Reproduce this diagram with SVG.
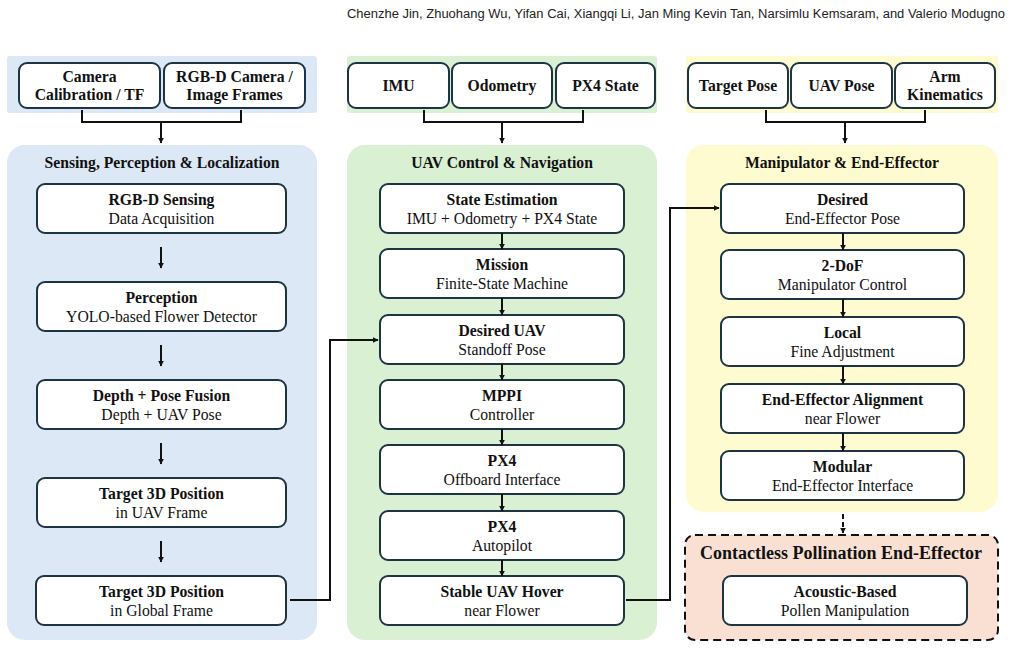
<svg xmlns="http://www.w3.org/2000/svg" width="1013" height="649" viewBox="0 0 1013 649">
<defs>
<marker id="ah" viewBox="0 0 10 10" refX="9" refY="5" markerWidth="6" markerHeight="6" markerUnits="userSpaceOnUse" orient="auto"><path d="M0,0 L10,5 L0,10 z" fill="#111"/></marker>
<style>
.band{stroke:none}
.node{fill:#fff;stroke:#1d3443;stroke-width:2}
.b{font-family:'Liberation Serif','Times New Roman','DejaVu Serif',serif;font-weight:bold;font-size:15.7px;fill:#111;text-anchor:middle}
.r{font-family:'Liberation Serif','Times New Roman','DejaVu Serif',serif;font-size:15.7px;fill:#111;text-anchor:middle}
.t{font-family:'Liberation Serif','Times New Roman','DejaVu Serif',serif;font-weight:bold;font-size:15.7px;fill:#111;text-anchor:middle}
.c{fill:none;stroke:#111;stroke-width:2}
.ca{fill:none;stroke:#111;stroke-width:2;marker-end:url(#ah)}
</style>
</defs>
<rect width="1013" height="649" fill="#fff"/>
<text x="1005" y="18" font-family="Liberation Sans, Arial, sans-serif" font-size="12" fill="#222" text-anchor="end" textLength="658" lengthAdjust="spacingAndGlyphs">Chenzhe Jin, Zhuohang Wu, Yifan Cai, Xiangqi Li, Jan Ming Kevin Tan, Narsimlu Kemsaram, and Valerio Modugno</text>

<!-- backgrounds -->
<g id="bands">
<rect class="band" x="7" y="56" width="310" height="57" rx="3" fill="#dce8f5"/>
<rect class="band" x="347" y="56" width="310" height="57" rx="3" fill="#d9f0d3"/>
<rect class="band" x="686" y="56" width="312" height="57" rx="3" fill="#fdfbcf"/>
<rect class="band" x="7" y="145" width="310" height="495" rx="18" fill="#dce8f5"/>
<rect class="band" x="347" y="145" width="310" height="495" rx="18" fill="#d9f0d3"/>
<rect class="band" x="686" y="145" width="312" height="367" rx="18" fill="#fdfbcf"/>
<rect x="685" y="535" width="313" height="105" rx="10" fill="#f9e0d3" stroke="#111" stroke-width="2" stroke-dasharray="8,5"/>
</g>
<g id="titles" font-family="Liberation Serif, serif">
<text class="t" x="162" y="168">Sensing, Perception &amp; Localization</text>
<text class="t" x="502" y="168">UAV Control &amp; Navigation</text>
<text class="t" x="842" y="168">Manipulator &amp; End-Effector</text>
<text class="t" x="841" y="559" style="font-size:18px">Contactless Pollination End-Effector</text>
</g>

<g font-family="Liberation Serif, serif">
<!-- inputs -->
<g id="in-camcal"><rect class="node" x="19" y="63" width="141" height="45" rx="8"/><text class="b" x="89.5" y="82">Camera</text><text class="b" x="89.5" y="100">Calibration / TF</text></g>
<g id="in-rgbd"><rect class="node" x="164" y="63" width="141" height="45" rx="8"/><text class="b" x="234.5" y="82">RGB-D Camera /</text><text class="b" x="234.5" y="100">Image Frames</text></g>
<g id="in-imu"><rect class="node" x="348" y="63" width="101" height="45" rx="8"/><text class="b" x="398.5" y="91">IMU</text></g>
<g id="in-odom"><rect class="node" x="452" y="63" width="100" height="45" rx="8"/><text class="b" x="502" y="91">Odometry</text></g>
<g id="in-px4"><rect class="node" x="556" y="63" width="99" height="45" rx="8"/><text class="b" x="605.5" y="91">PX4 State</text></g>
<g id="in-target"><rect class="node" x="688" y="63" width="100" height="45" rx="8"/><text class="b" x="738" y="91">Target Pose</text></g>
<g id="in-uavpose"><rect class="node" x="791" y="63" width="101" height="45" rx="8"/><text class="b" x="841.5" y="91">UAV Pose</text></g>
<g id="in-arm"><rect class="node" x="895" y="63" width="100" height="45" rx="8"/><text class="b" x="945" y="82">Arm</text><text class="b" x="945" y="100">Kinematics</text></g>

<!-- left nodes -->
<g id="n-rgbd"><rect class="node" x="37" y="184" width="249" height="49" rx="8"/><text class="b" x="161.5" y="205">RGB-D Sensing</text><text class="r" x="161.5" y="224">Data Acquisition</text></g>
<g id="n-perc"><rect class="node" x="37" y="282" width="249" height="49" rx="8"/><text class="b" x="161.5" y="303">Perception</text><text class="r" x="161.5" y="322">YOLO-based Flower Detector</text></g>
<g id="n-depth"><rect class="node" x="37" y="380" width="249" height="49" rx="8"/><text class="b" x="161.5" y="401">Depth + Pose Fusion</text><text class="r" x="161.5" y="420">Depth + UAV Pose</text></g>
<g id="n-t3uav"><rect class="node" x="37" y="478" width="249" height="49" rx="8"/><text class="b" x="161.5" y="499">Target 3D Position</text><text class="r" x="161.5" y="518">in UAV Frame</text></g>
<g id="n-t3glob"><rect class="node" x="36" y="576" width="250" height="49" rx="8"/><text class="b" x="161.5" y="597">Target 3D Position</text><text class="r" x="161.5" y="616">in Global Frame</text></g>

<!-- middle nodes -->
<g id="n-state"><rect class="node" x="380" y="184" width="244" height="49" rx="8"/><text class="b" x="502" y="205">State Estimation</text><text class="r" x="502" y="224">IMU + Odometry + PX4 State</text></g>
<g id="n-mission"><rect class="node" x="380" y="249" width="244" height="49" rx="8"/><text class="b" x="502" y="270">Mission</text><text class="r" x="502" y="289">Finite-State Machine</text></g>
<g id="n-desuav"><rect class="node" x="380" y="315" width="244" height="49" rx="8"/><text class="b" x="502" y="336">Desired UAV</text><text class="r" x="502" y="355">Standoff Pose</text></g>
<g id="n-mppi"><rect class="node" x="380" y="380" width="244" height="49" rx="8"/><text class="b" x="502" y="401">MPPI</text><text class="r" x="502" y="420">Controller</text></g>
<g id="n-offb"><rect class="node" x="380" y="445" width="244" height="49" rx="8"/><text class="b" x="502" y="466">PX4</text><text class="r" x="502" y="485">Offboard Interface</text></g>
<g id="n-auto"><rect class="node" x="380" y="511" width="244" height="49" rx="8"/><text class="b" x="502" y="532">PX4</text><text class="r" x="502" y="551">Autopilot</text></g>
<g id="n-hover"><rect class="node" x="380" y="576" width="244" height="49" rx="8"/><text class="b" x="502" y="597">Stable UAV Hover</text><text class="r" x="502" y="616">near Flower</text></g>

<!-- right nodes -->
<g id="n-desee"><rect class="node" x="721" y="184" width="243" height="49" rx="8"/><text class="b" x="842.5" y="205">Desired</text><text class="r" x="842.5" y="224">End-Effector Pose</text></g>
<g id="n-2dof"><rect class="node" x="721" y="250" width="243" height="49" rx="8"/><text class="b" x="842.5" y="271">2-DoF</text><text class="r" x="842.5" y="290">Manipulator Control</text></g>
<g id="n-local"><rect class="node" x="721" y="317" width="243" height="49" rx="8"/><text class="b" x="842.5" y="338">Local</text><text class="r" x="842.5" y="357">Fine Adjustment</text></g>
<g id="n-align"><rect class="node" x="721" y="384" width="243" height="49" rx="8"/><text class="b" x="842.5" y="405">End-Effector Alignment</text><text class="r" x="842.5" y="424">near Flower</text></g>
<g id="n-modular"><rect class="node" x="721" y="451" width="243" height="49" rx="8"/><text class="b" x="842.5" y="472">Modular</text><text class="r" x="842.5" y="491">End-Effector Interface</text></g>
<g id="n-acoustic"><rect class="node" x="723" y="576" width="244" height="49" rx="8"/><text class="b" x="845" y="597">Acoustic-Based</text><text class="r" x="845" y="616">Pollen Manipulation</text></g>
</g>

<!-- connectors -->
<g id="connectors">
<path class="c" d="M82,110 V122 H241 V110"/>
<path class="ca" d="M161,122 V143"/>
<path class="c" d="M424,110 V122 H583 V110"/>
<path class="ca" d="M502,122 V143"/>
<path class="c" d="M766,110 V122 H925 V110"/>
<path class="ca" d="M845,122 V143"/>

<path class="ca" d="M161,247 V268"/>
<path class="ca" d="M161,345 V366"/>
<path class="ca" d="M161,443 V464"/>
<path class="ca" d="M161,541 V562"/>

<path class="ca" d="M502,233 V249"/>
<path class="ca" d="M502,298 V315"/>
<path class="ca" d="M502,364 V380"/>
<path class="ca" d="M502,429 V445"/>
<path class="ca" d="M502,494 V511"/>
<path class="ca" d="M502,560 V576"/>

<path class="ca" d="M843,233 V250"/>
<path class="ca" d="M843,299 V317"/>
<path class="ca" d="M843,366 V384"/>
<path class="ca" d="M843,433 V451"/>
<path class="ca" d="M843,514 V533" stroke-dasharray="5,3"/>

<path class="ca" d="M290,600 H330 V340 H378"/>
<path class="ca" d="M626,600 H670 V208 H719"/>
</g>
</svg>
